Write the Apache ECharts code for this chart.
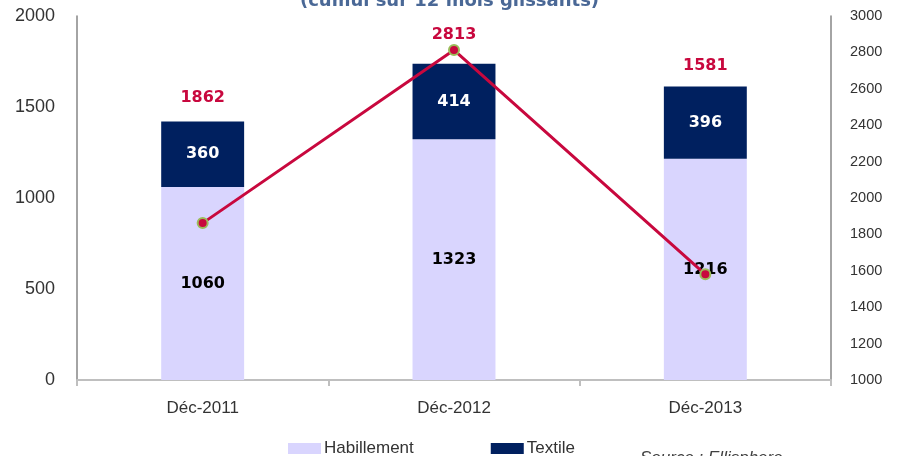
<!DOCTYPE html>
<html>
<head>
<meta charset="utf-8">
<script src="https://cdn.jsdelivr.net/npm/echarts@6/dist/echarts.min.js"></script>
<style>
  html, body { margin: 0; padding: 0; background: #fff; }
  #chart { width: 899px; height: 456px; }
</style>
</head>
<body>
<div id="chart"></div>
<script>
// values
const categories = ['Déc-2011', 'Déc-2012', 'Déc-2013']
const habillement = [1060, 1323, 1216]
const textile = [360, 414, 396]
const totalCumul = [1862, 2813, 1581]

const chart = echarts.init(document.getElementById('chart'))

// the total labels sit above the bars in the source, not next to the points
const totalLabelOffsets = [[0, -106], [0, 4], [0, -189]]

const axisLabelFont = 'Liberation Sans, Arial, sans-serif'
const valueFont = 'DejaVu Sans, Verdana, sans-serif'
const plain = v => String(v)

const option = {
  animation: false,
  graphic: [
    {
      type: 'text',
      left: 'center',
      top: -8,
      style: {
        text: '(cumul sur 12 mois glissants)',
        font: 'bold 18px DejaVu Sans, Verdana, sans-serif',
        fill: '#4a6896'
      },
      x: -8
    },
    {
      type: 'text',
      left: 640,
      top: 450,
      style: {
        text: 'Source : Ellisphere',
        font: 'italic 17px Liberation Sans, Arial, sans-serif',
        fill: '#404040'
      }
    }
  ],
  legend: {
    data: ['Habillement', 'Textile'],
    left: 283,
    top: 435,
    itemWidth: 33,
    itemHeight: 11,
    itemGap: 77,
    icon: 'rect',
    textStyle: { fontFamily: axisLabelFont, fontSize: 17, color: '#333', padding: [0, 0, 0, -2] }
  },
  grid: { left: 77, right: 68, top: 16, bottom: 76, containLabel: false },
  xAxis: {
    type: 'category',
    data: categories,
    axisLine: { lineStyle: { color: '#bfbfbf', width: 2 } },
    axisTick: { show: true, length: 6, lineStyle: { color: '#bfbfbf', width: 2 } },
    axisLabel: { fontFamily: axisLabelFont, fontSize: 17, color: '#333', margin: 20 }
  },
  yAxis: [
    {
      type: 'value', min: 0, max: 2000, interval: 500,
      axisLine: { show: true, lineStyle: { color: '#868686', width: 1.5 } },
      axisTick: { show: false },
      splitLine: { show: false },
      axisLabel: { fontFamily: axisLabelFont, fontSize: 18, color: '#333', margin: 22, formatter: plain }
    },
    {
      type: 'value', min: 1000, max: 3000, interval: 200,
      position: 'right',
      axisLine: { show: true, lineStyle: { color: '#868686', width: 1.5 } },
      axisTick: { show: false },
      splitLine: { show: false },
      axisLabel: { fontFamily: axisLabelFont, fontSize: 14.5, color: '#333', margin: 19, formatter: plain }
    }
  ],
  series: [
    {
      name: 'Habillement',
      type: 'bar',
      stack: 'total',
      barWidth: '33%',
      itemStyle: { color: '#d9d5fe' },
      label: {
        show: true, position: 'inside',
        fontFamily: valueFont, fontWeight: 'bold', fontSize: 16, color: '#000'
      },
      data: habillement
    },
    {
      name: 'Textile',
      type: 'bar',
      stack: 'total',
      barWidth: '33%',
      itemStyle: { color: '#00205f' },
      label: {
        show: true, position: 'inside',
        fontFamily: valueFont, fontWeight: 'bold', fontSize: 16, color: '#fff'
      },
      data: textile
    },
    {
      name: 'Total',
      type: 'line',
      yAxisIndex: 1,
      symbol: 'circle',
      symbolSize: 10,
      z: 5,
      lineStyle: { color: '#c8083e', width: 3 },
      itemStyle: { color: '#c8083e', borderColor: '#9bbb59', borderWidth: 2 },
      data: totalCumul.map((v, i) => ({
        value: v,
        label: {
          show: true, position: 'top', offset: totalLabelOffsets[i],
          fontFamily: valueFont, fontWeight: 'bold', fontSize: 16, color: '#c8083e'
        }
      }))
    }
  ]
}

chart.setOption(option)
</script>
</body>
</html>
